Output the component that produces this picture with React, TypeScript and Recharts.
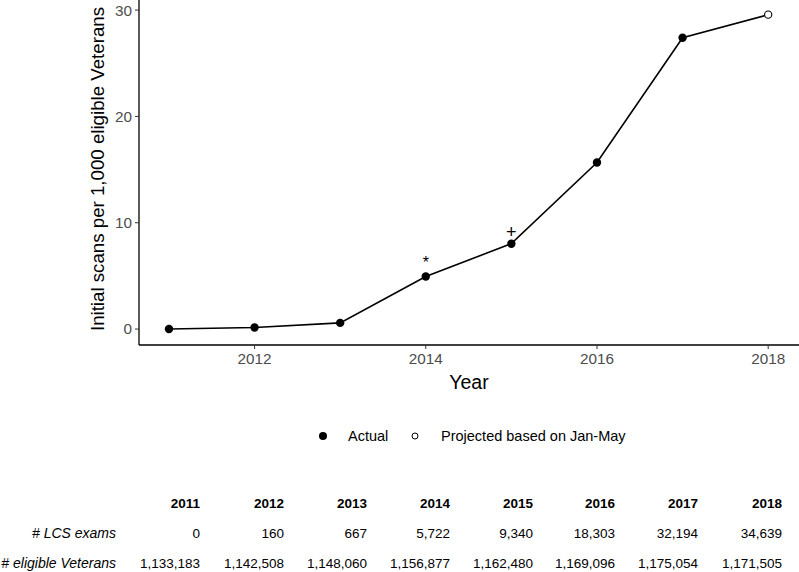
import React from 'react';
import { ComposedChart, Line, XAxis, YAxis, LabelList } from 'recharts';

// Initial LCS scans per 1,000 eligible Veterans, 2011–2018 (2018 projected)
const years = [2011, 2012, 2013, 2014, 2015, 2016, 2017, 2018];
const scanRate = [0, 0.14, 0.58, 4.95, 8.03, 15.66, 27.4, 29.57];
const projected = [false, false, false, false, false, false, false, true];
const notes = ['', '', '', '*', '+', '', '', ''];

const xTicks = [2012, 2014, 2016, 2018];
const yTicks = [0, 10, 20, 30];

// table under the chart
const lcsExams = ['0', '160', '667', '5,722', '9,340', '18,303', '32,194', '34,639'];
const eligibleVets = ['1,133,183', '1,142,508', '1,148,060', '1,156,877', '1,162,480', '1,169,096', '1,175,054', '1,171,505'];

const FONT = '"Liberation Sans", Arial, sans-serif';

const data = years.map((y, i) => ({
  year: y,
  rate: scanRate[i],
  projected: projected[i],
  note: notes[i],
}));

const Dot = (props: any) => {
  const { cx, cy, payload, index } = props;
  if (cx == null || cy == null) return null;
  if (payload.projected) {
    return <circle key={index} cx={cx} cy={cy} r={3.6} fill="#fff" stroke="#000" strokeWidth={1.1} />;
  }
  return <circle key={index} cx={cx} cy={cy} r={4.2} fill="#000" stroke="none" />;
};

const NoteLabel = (props: any) => {
  const { x, y, value } = props;
  if (!value) return null;
  const dy = value === '*' ? -8 : -6;
  return (
    <text x={x} y={y + dy} textAnchor="middle" fontSize={value === '*' ? 16 : 18} fontFamily={FONT} fill="#000">
      {value}
    </text>
  );
};

const colRight = [200, 284, 367, 450, 533, 615, 698, 782];

const App: React.FC = () => {
  return (
    <div style={{ position: 'absolute', left: 0, top: 0, width: 799, height: 572, background: '#fff', fontFamily: FONT }}>
      <ComposedChart width={799} height={395} data={data} margin={{ top: 0, right: 0, bottom: 0, left: 0 }}>
        <XAxis
          dataKey="year"
          type="number"
          domain={[2010.65, 2018.36]}
          ticks={xTicks}
          allowDataOverflow
          height={50}
          tick={{ fill: '#4d4d4d', fontSize: 15.3, fontFamily: FONT }}
          tickSize={4}
          tickMargin={4}
          axisLine={{ stroke: '#000', strokeWidth: 1.3 }}
          tickLine={{ stroke: '#333' }}
          label={(p: any) => (
            <text x={469} y={389} textAnchor="middle" fontSize={19.5} fontFamily={FONT} fill="#000">Year</text>
          )}
        />
        <YAxis
          type="number"
          domain={[-1.5, 30.95]}
          ticks={yTicks}
          allowDataOverflow
          width={139}
          tick={{ fill: '#4d4d4d', fontSize: 15.3, fontFamily: FONT }}
          tickSize={4}
          tickMargin={3}
          axisLine={{ stroke: '#000', strokeWidth: 1.3 }}
          tickLine={{ stroke: '#333' }}
          label={(p: any) => (
            <text x={104} y={169} transform="rotate(-90 104 169)" textAnchor="middle" fontSize={18.7} fontFamily={FONT} fill="#000">
              Initial scans per 1,000 eligible Veterans
            </text>
          )}
        />
        <Line
          dataKey="rate"
          type="linear"
          stroke="#000"
          strokeWidth={1.6}
          dot={<Dot />}
          activeDot={false}
          isAnimationActive={false}
        >
          <LabelList dataKey="note" content={<NoteLabel />} />
        </Line>
      </ComposedChart>

      {/* legend */}
      <svg style={{ position: 'absolute', left: 0, top: 425 }} width={799} height={24}>
        <circle cx={323} cy={11} r={4} fill="#000" />
        <text x={348} y={16} fontSize={14.5} fontFamily={FONT} fill="#000">Actual</text>
        <circle cx={415} cy={11} r={3} fill="#fff" stroke="#000" strokeWidth={1} />
        <text x={441} y={16} fontSize={14.5} fontFamily={FONT} fill="#000">Projected based on Jan-May</text>
      </svg>

      {/* counts table */}
      <svg style={{ position: 'absolute', left: 0, top: 488 }} width={799} height={84}>
        {years.map((y, i) => (
          <text key={'h' + y} x={colRight[i]} y={20} textAnchor="end" fontSize={13.5} fontWeight="bold" fontFamily={FONT} fill="#000">{y}</text>
        ))}
        <text x={116} y={50} textAnchor="end" fontSize={14} fontStyle="italic" fontFamily={FONT} fill="#000"># LCS exams</text>
        {lcsExams.map((v, i) => (
          <text key={'e' + i} x={colRight[i]} y={50} textAnchor="end" fontSize={13.5} fontFamily={FONT} fill="#000">{v}</text>
        ))}
        <text x={116} y={80} textAnchor="end" fontSize={14} fontStyle="italic" fontFamily={FONT} fill="#000"># eligible Veterans</text>
        {eligibleVets.map((v, i) => (
          <text key={'v' + i} x={colRight[i]} y={80} textAnchor="end" fontSize={13.5} fontFamily={FONT} fill="#000">{v}</text>
        ))}
      </svg>
    </div>
  );
};

export default App;
